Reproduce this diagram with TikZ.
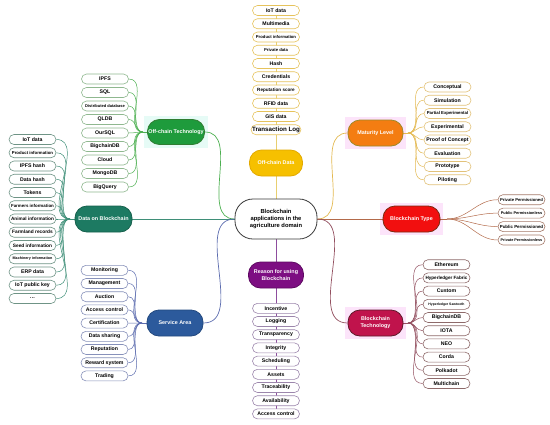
\documentclass[tikz,border=0pt]{standalone}
\usepackage{fontspec}
\setmainfont{Liberation Sans}
\usepackage{xcolor}
\usepackage{tikz}
\usetikzlibrary{fit, backgrounds}

\definecolor{odfill}{HTML}{F6C000}\definecolor{oddraw}{HTML}{E2A900}
\definecolor{odleaf}{HTML}{E6C35C}\definecolor{odline}{HTML}{E8CF70}
\definecolor{otfill}{HTML}{1E9B3C}\definecolor{otdraw}{HTML}{2F7D32}
\definecolor{otleaf}{HTML}{8FB88F}\definecolor{otline}{HTML}{4CAF50}
\definecolor{dbfill}{HTML}{1D7A62}\definecolor{dbdraw}{HTML}{16604C}
\definecolor{dbleaf}{HTML}{6F9486}\definecolor{dbline}{HTML}{3F8F78}
\definecolor{safill}{HTML}{2C5A9C}\definecolor{sadraw}{HTML}{23497F}
\definecolor{saleaf}{HTML}{8791BA}\definecolor{saline}{HTML}{5B6BAE}
\definecolor{rsfill}{HTML}{7D0E82}\definecolor{rsdraw}{HTML}{5E0A62}
\definecolor{rsleaf}{HTML}{9C86AC}\definecolor{rsline}{HTML}{8E4D9E}
\definecolor{mlfill}{HTML}{F47D12}\definecolor{mldraw}{HTML}{9C8A2A}
\definecolor{mlleaf}{HTML}{E2C27A}\definecolor{mlline}{HTML}{E3B850}
\definecolor{btfill}{HTML}{F20F0F}\definecolor{btdraw}{HTML}{7A2A10}
\definecolor{btleaf}{HTML}{A57A6A}\definecolor{btline}{HTML}{B36A4A}
\definecolor{tcfill}{HTML}{C0134C}\definecolor{tcdraw}{HTML}{5E1A2A}
\definecolor{tcleaf}{HTML}{8E6A6A}\definecolor{tcline}{HTML}{935060}
\definecolor{hipink}{HTML}{FCE4FA}\definecolor{hicyan}{HTML}{E6FBF6}
\definecolor{cendraw}{HTML}{3A3A3A}

\newcommand{\lbl}[2]{{\fontsize{#1}{#1}\selectfont #2}}

\begin{document}
\begin{tikzpicture}[x=1pt, y=-1pt,
  leaf/.style={draw=#1, fill=white, line width=0.6pt, rounded corners=5pt, minimum width=47pt, minimum height=10pt, inner xsep=1pt, inner ysep=0pt, font=\fontsize{5.2}{6}\selectfont\bfseries},
  hub/.style={fill=#1, text=white, rounded corners=12pt, minimum width=55pt, minimum height=26pt, inner sep=1pt, align=center, font=\fontsize{5.4}{7}\selectfont\bfseries, line width=0.8pt},
  hilite/.style={fill=#1, inner sep=3pt, draw=none},
  link/.style={draw=#1, line width=0.7pt},
  twig/.style={draw=#1, line width=0.5pt}]
\useasboundingbox (0,0) rectangle (550,424);

% centre
\node[draw=cendraw, fill=white, line width=0.8pt, rounded corners=18pt, minimum width=82pt, minimum height=40pt, align=center, font=\fontsize{5.8}{7.3}\selectfont\bfseries] (cen) at (276,219) {Blockchain\\applications in the\\agriculture domain};

% branches
\node[hub=odfill, draw=oddraw, minimum width=53pt] (od) at (276,163) {Off-chain Data};
\node[hub=otfill, draw=otdraw, minimum width=56pt, minimum height=25pt] (ot) at (176,132) {Off-chain Technology};
\node[hub=dbfill, draw=dbdraw, minimum width=57pt] (db) at (103.5,219) {Data on Blockchain};
\node[hub=safill, draw=sadraw, minimum width=56pt] (sa) at (175,323) {Service Area};
\node[hub=rsfill, draw=rsdraw] (rs) at (276,275) {Reason for using\\Blockchain};
\node[hub=mlfill, draw=mldraw] (ml) at (375.5,133) {Maturity Level};
\node[hub=btfill, draw=btdraw, minimum width=57pt] (bt) at (411.5,219) {Blockchain Type};
\node[hub=tcfill, draw=tcdraw] (tc) at (375.5,323) {Blockchain\\Technology};

% leaves
\foreach \t [count=\i] in {IoT data, Multimedia, \lbl{4.2}{Product information}, \lbl{4.2}{Private data}, Hash, Credentials, \lbl{4.6}{Reputation score}, RFID data, GIS data, \lbl{6.2}{Transaction Log}}
  \node[leaf=odleaf] (odl\i) at (276,{10.5+13.25*(\i-1)}) {\t};
\foreach \t [count=\i] in {IPFS, SQL, \lbl{4}{Distributed database}, QLDB, OurSQL, BigchainDB, Cloud, MongoDB, BigQuery}
  \node[leaf=otleaf] (otl\i) at (105,{79+13.5*(\i-1)}) {\t};
\foreach \t [count=\i] in {IoT data, \lbl{4.3}{Product information}, IPFS hash, Data hash, Tokens, \lbl{4.4}{Farmers information}, \lbl{4.7}{Animal information}, \lbl{4.8}{Farmland records}, \lbl{4.8}{Seed information}, \lbl{3.7}{Machinery information}, ERP data, IoT public key, \ldots}
  \node[leaf=dbleaf] (dbl\i) at (32.5,{139.5+13.25*(\i-1)}) {\t};
\foreach \t [count=\i] in {Monitoring, Management, Auction, Access control, Certification, Data sharing, Reputation, Reward system, Trading}
  \node[leaf=saleaf] (sal\i) at (104.5,{270.3+13.2*(\i-1)}) {\t};
\foreach \t [count=\i] in {Incentive, Logging, Transparency, Integrity, Scheduling, Assets, Traceability, Availability, Access control}
  \node[leaf=rsleaf] (rsl\i) at (276,{308.3+13.2*(\i-1)}) {\t};
\foreach \t [count=\i] in {Conceptual, Simulation, \lbl{4.3}{Partial Experimental}, Experimental, Proof of Concept, Evaluation, Prototype, Piloting}
  \node[leaf=mlleaf] (mll\i) at (447.5,{87+13.25*(\i-1)}) {\t};
\foreach \t [count=\i] in {\lbl{4.2}{Private Permissioned}, \lbl{3.9}{Public Permissionless}, \lbl{4.4}{Public Permissioned}, \lbl{3.8}{Private Permissionless}}
  \node[leaf=btleaf] (btl\i) at (521.5,{199.7+13.43*(\i-1)}) {\t};
\foreach \t [count=\i] in {Ethereum, \lbl{4.6}{Hyperledger Fabric}, Custom, \lbl{3.4}{Hyperledger Sawtooth}, BigchainDB, IOTA, NEO, Corda, Polkadot, Multichain}
  \node[leaf=tcleaf] (tcl\i) at (446.5,{264.7+13.2*(\i-1)}) {\t};

% junctions
\coordinate (otj) at (143,132);
\coordinate (dbj) at (70,219);
\coordinate (saj) at (142,323);
\coordinate (mlj) at (408,133);
\coordinate (btj) at (447,219);
\coordinate (tcj) at (408,323);

\begin{scope}[on background layer]
\node[hilite=hipink, fit=(ml)] {};
\node[hilite=hipink, fit=(bt)] {};
\node[hilite=hipink, fit=(tc)] {};
\node[hilite=hicyan, fit=(ot)] {};
% main links
\draw[link=odline] (cen.north) -- (od.south);
\draw[link=otline] (cen.west) to[out=180,in=0] (ot.east);
\draw[link=dbline] (cen.west) -- (db.east);
\draw[link=saline] (cen.west) to[out=180,in=0] (sa.east);
\draw[link=rsline] (cen.south) -- (rs.north);
\draw[link=mlline] (cen.east) to[out=0,in=180] (ml.west);
\draw[link=btline] (cen.east) -- (bt.west);
\draw[link=tcline] (cen.east) to[out=0,in=180] (tc.west);
% twigs
\foreach \i in {1,...,10} \draw[twig=odline] (od.north) -- (odl\i.south);
\foreach \i in {1,...,9} \draw[twig=rsline] (rs.south) -- (rsl\i.north);
\draw[twig=otline] (ot.west) -- (otj);
\foreach \i in {1,...,9} \draw[twig=otline] (otj) to[out=180,in=0] (otl\i.east);
\draw[twig=dbline] (db.west) -- (dbj);
\foreach \i in {1,...,13} \draw[twig=dbline] (dbj) to[out=180,in=0] (dbl\i.east);
\draw[twig=saline] (sa.west) -- (saj);
\foreach \i in {1,...,9} \draw[twig=saline] (saj) to[out=180,in=0] (sal\i.east);
\draw[twig=mlline] (ml.east) -- (mlj);
\foreach \i in {1,...,8} \draw[twig=mlline] (mlj) to[out=0,in=180] (mll\i.west);
\draw[twig=btline] (bt.east) -- (btj);
\foreach \i in {1,...,4} \draw[twig=btline] (btj) to[out=0,in=180] (btl\i.west);
\draw[twig=tcline] (tc.east) -- (tcj);
\foreach \i in {1,...,10} \draw[twig=tcline] (tcj) to[out=0,in=180] (tcl\i.west);
\end{scope}
\end{tikzpicture}
\end{document}
